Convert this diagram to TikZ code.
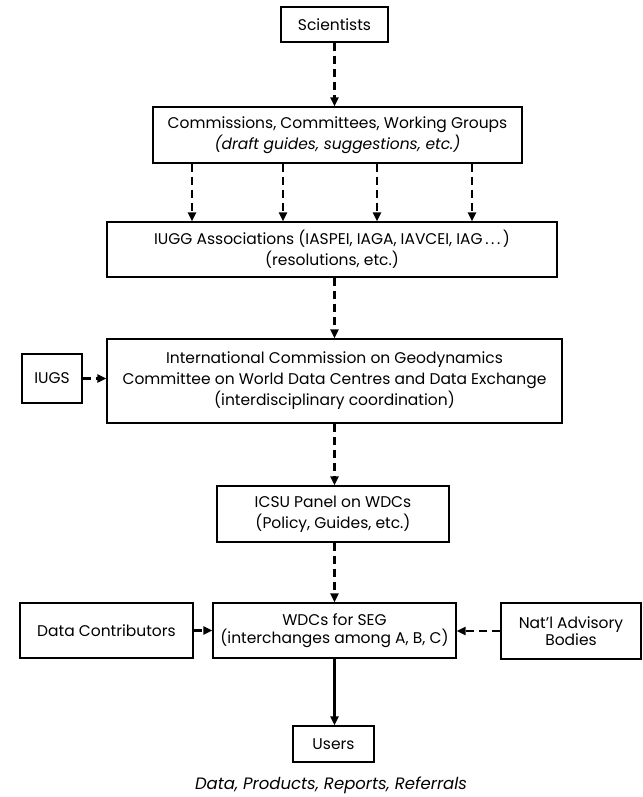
\documentclass[tikz,border=0pt]{standalone}
\usepackage{fontspec}
\setmainfont{Poppins}
\usetikzlibrary{arrows.meta}
\begin{document}
\begin{tikzpicture}[x=1pt,y=-1pt,
  box/.style={draw,line width=1.2pt,inner sep=0pt,align=center,
    font=\fontsize{15.5}{21}\selectfont},
  darr/.style={line width=2.4pt,dash pattern=on 8pt off 5pt,
    -{Triangle[length=9pt,width=8pt]}},
  sarr/.style={line width=2.4pt,-{Triangle[length=9pt,width=8pt]}}]
\useasboundingbox (0,0) rectangle (642,797);
\node[box,minimum width=107pt,minimum height=35pt] (sci) at (334.5,24.5) {Scientists};
\node[box,minimum width=369pt,minimum height=56pt] (com) at (337.5,135)
  {Commissions, Committees, Working Groups\\\textit{(draft guides, suggestions, etc.)}};
\node[box,minimum width=450pt,minimum height=55pt] (iugg) at (332,249.5)
  {IUGG Associations (IASPEI, IAGA, IAVCEI, IAG\,.\,.\,.\,)\\(resolutions, etc.)};
\node[box,minimum width=455pt,minimum height=84pt] (icg) at (334.5,381)
  {International Commission on Geodynamics\\Committee on World Data Centres and Data Exchange\\(interdisciplinary coordination)};
\node[box,minimum width=60pt,minimum height=49pt] (iugs) at (52,378.5) {IUGS};
\node[box,minimum width=232pt,minimum height=56pt] (icsu) at (333,514)
  {ICSU Panel on WDCs\\(Policy, Guides, etc.)};
\node[box,minimum width=243pt,minimum height=55pt,font=\fontsize{15.5}{18}\selectfont] (wdc) at (334.5,630.5)
  {WDCs for SEG\\(interchanges among A, B, C)};
\node[box,minimum width=173pt,minimum height=55pt] (dc) at (106.5,630.5) {Data Contributors};
\node[box,minimum width=140pt,minimum height=56pt,font=\fontsize{15.5}{17}\selectfont] (nat) at (571,631)
  {Nat'l Advisory\\Bodies};
\node[box,minimum width=81pt,minimum height=36pt] (users) at (333.5,744) {Users};
\node[inner sep=0pt,font=\fontsize{16.5}{18}\selectfont\itshape] (out) at (331,785) {Data, Products, Reports, Referrals};

\coordinate (c1) at (192,0);
\coordinate (c2) at (283,0);
\coordinate (c3) at (377,0);
\coordinate (c4) at (472,0);
\coordinate (cm) at (334.5,0);

\draw[darr] (sci.south -| cm) -- (com.north -| cm);
\foreach \c in {c1,c2,c3,c4}
  \draw[darr] (com.south -| \c) -- (iugg.north -| \c);
\draw[darr] (iugg.south -| cm) -- (icg.north -| cm);
\draw[darr] (iugs.east) -- (iugs.east -| icg.west);
\draw[darr] (icg.south -| cm) -- (icsu.north -| cm);
\draw[darr] (icsu.south -| cm) -- (wdc.north -| cm);
\draw[darr] (dc.east) -- (wdc.west);
\draw[darr] (nat.west) -- (nat.west -| wdc.east);
\draw[sarr] (wdc.south -| cm) -- (users.north -| cm);
\end{tikzpicture}
\end{document}
